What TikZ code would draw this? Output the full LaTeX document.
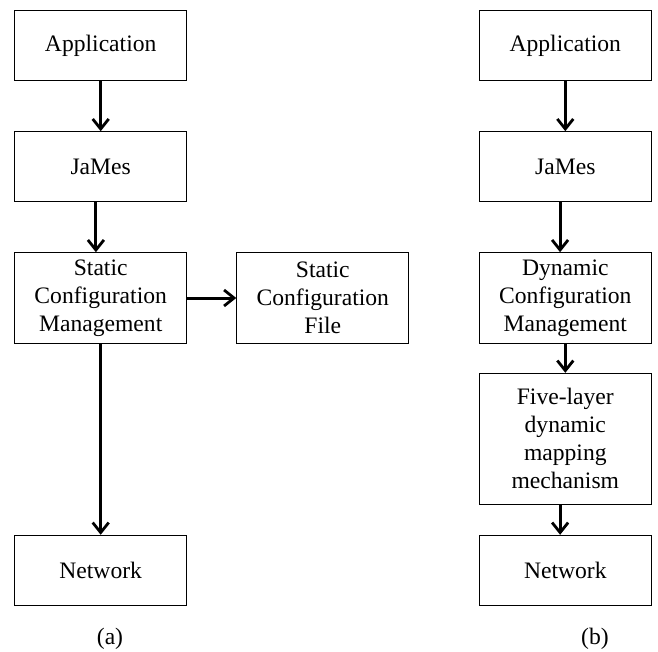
\documentclass[tikz,border=0pt]{standalone}
\usepackage{fontspec}
\setmainfont{Liberation Serif}
\usetikzlibrary{arrows.meta}

\begin{document}
\begin{tikzpicture}[x=0.5pt, y=-0.5pt,
    layer/.style = {draw, line width=0.5pt, align=center, inner sep=0, minimum width=86pt, minimum height=35pt,
                    font=\fontsize{11.8}{14}\selectfont},
    flow/.style = {-{Straight Barb[length=5pt, width=8pt, line width=1.4pt]}, line width=1.5pt}]
    \useasboundingbox (0,0) rectangle (658,652);

    % (a) static configuration
    \node[layer]                        (appA) at (100.7,45.8)  {Application};
    \node[layer]                        (jamA) at (100.7,166.7) {JaMes};
    \node[layer, minimum height=45.3pt] (scmA) at (100.7,298)   {Static\\ Configuration\\ Management};
    \node[layer, minimum height=45.3pt] (scf)  at (322.8,298)   {Static\\ Configuration\\ File};
    \node[layer]                        (netA) at (100.7,570.3) {Network};
    \node[font=\fontsize{11.8}{14}\selectfont] (capA) at (110,639) {(a)};

    \draw[flow] (appA.south) -- (jamA.north);
    \draw[flow] ([xshift=-2.4pt]jamA.south) -- ([xshift=-2.4pt]scmA.north);
    \draw[flow] (scmA.east) -- (scf.west);
    \draw[flow] (scmA.south) -- (netA.north);

    % (b) dynamic configuration
    \node[layer]                        (appB) at (565.3,45.8)  {Application};
    \node[layer]                        (jamB) at (565.3,166.7) {JaMes};
    \node[layer, minimum height=45.3pt] (dcm)  at (565.3,298)   {Dynamic\\ Configuration\\ Management};
    \node[layer, minimum height=65.5pt] (five) at (565.3,438.8) {Five-layer\\ dynamic\\ mapping\\ mechanism};
    \node[layer]                        (netB) at (565.3,570.3) {Network};
    \node[font=\fontsize{11.8}{14}\selectfont] (capB) at (595,639) {(b)};

    \draw[flow] (appB.south) -- (jamB.north);
    \draw[flow] ([xshift=-2.6pt]jamB.south) -- ([xshift=-2.6pt]dcm.north);
    \draw[flow] (dcm.south) -- (five.north);
    \draw[flow] ([xshift=-2.6pt]five.south) -- ([xshift=-2.6pt]netB.north);
\end{tikzpicture}
\end{document}
